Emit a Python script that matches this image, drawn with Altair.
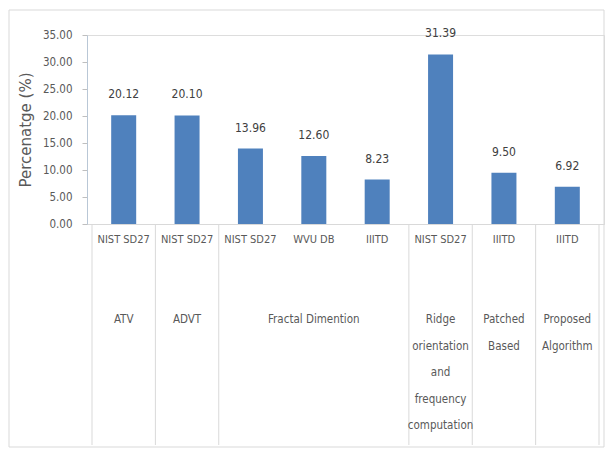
import altair as alt
import pandas as pd

# ---- data ----
datasets = ["NIST SD27", "NIST SD27", "NIST SD27", "WVU DB", "IIITD", "NIST SD27", "IIITD", "IIITD"]
values = [20.12, 20.10, 13.96, 12.60, 8.23, 31.39, 9.50, 6.92]
groups = ["ATV", "ADVT", "Fractal Dimention", "Ridge\norientation\nand\nfrequency\ncomputation",
          "Patched\nBased", "Proposed\nAlgorithm"]
group_start = [0, 1, 2, 5, 6, 7]
group_end = [1, 2, 5, 6, 7, 8]
y_ticks = [0, 5, 10, 15, 20, 25, 30, 35]

FONT = "Liberation Sans Narrow, DejaVu Sans Condensed, Roboto, sans-serif"
W, H = 517, 189

bars_df = pd.DataFrame({"pos": [i + 0.5 for i in range(len(values))],
                        "value": values, "dataset": datasets,
                        "label": [f"{v:.2f}" for v in values]})
grp_df = pd.DataFrame({"center": [(s + e) / 2 for s, e in zip(group_start, group_end)],
                       "group": groups})
bounds_df = pd.DataFrame({"b": sorted(set(group_start + group_end))})

xscale = alt.Scale(domain=[0, 8], nice=False, zero=False)
yscale = alt.Scale(domain=[0, 35], nice=False)

xaxis = alt.Axis(labels=False, ticks=False, grid=False, title=None, orient="bottom",
                 domainColor="#d9d9d9", domainWidth=1)
yaxis = alt.Axis(values=y_ticks, format=".2f", grid=False, labelOverlap=False, orient="left",
                 title="Percenatge (%)", titleFont="DejaVu Sans",
                 titleFontSize=15, titleFontWeight="normal", titleColor="#595959",
                 titlePadding=9,
                 labelFont=FONT, labelFontSize=11.5, labelColor="#595959",
                 labelPadding=10, tickSize=5, tickColor="#bfbfbf",
                 domainColor="#b9c7d6")

X = lambda f: alt.X(f, scale=xscale, axis=xaxis)
Y = lambda f: alt.Y(f, scale=yscale, axis=yaxis)

base = alt.Chart(bars_df)

bars = base.mark_bar(color="#4F81BD", size=25).encode(x=X("pos:Q"), y=Y("value:Q"))

value_labels = base.mark_text(font=FONT, fontSize=12, color="#404040",
                              baseline="bottom", dy=-14).encode(
    x=X("pos:Q"), y=Y("value:Q"), text="label:N")

lvl1 = base.mark_text(font=FONT, fontSize=11, color="#595959", baseline="middle").encode(
    x=X("pos:Q"), y=alt.value(H + 16), text="dataset:N")

lvl2 = alt.Chart(grp_df).mark_text(font=FONT, fontSize=11.5, color="#595959",
                                   baseline="middle", lineBreak="\n", lineHeight=26.5).encode(
    x=X("center:Q"), y=alt.value(H + 96), text="group:N")

seps = alt.Chart(bounds_df).mark_rule(color="#d9d9d9", strokeWidth=1).encode(
    x=X("b:Q"), y=alt.value(H), y2=alt.value(H + 221))

frame = alt.Chart(bars_df.head(1)).mark_rect(fill=None, stroke="#d9d9d9", strokeWidth=1,
                                              clip=False).encode(
    x=alt.value(-78), x2=alt.value(W), y=alt.value(-25), y2=alt.value(H + 223))

chart = alt.layer(bars, frame, seps, value_labels, lvl1, lvl2).properties(
    width=W, height=H,
    autosize=alt.AutoSizeParams(type="none"),
    padding={"left": 79, "top": 27, "right": 1, "bottom": 224},
).configure_view(stroke=None).configure(background="white")

chart.save("out.html", embed_options={"renderer": "svg", "actions": False})
